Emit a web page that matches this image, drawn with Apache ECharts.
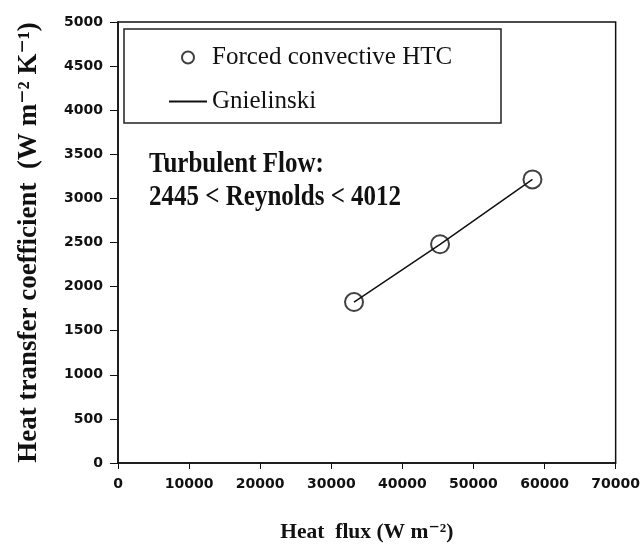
<!DOCTYPE html>
<html>
<head>
<meta charset="utf-8">
<title>Heat transfer coefficient vs heat flux</title>
<script src="https://cdn.jsdelivr.net/npm/echarts@6/dist/echarts.min.js"></script>
<style>
  html, body { margin: 0; padding: 0; background: #fff; }
  #main { width: 643px; height: 549px; }
</style>
</head>
<body>
<div id="main"></div>
<script>
var heatFlux = [33200, 45300, 58300];
var htcMeasured = [1825, 2480, 3215];
var htcGnielinski = [1825, 2480, 3215];
var xTicks = [0, 10000, 20000, 30000, 40000, 50000, 60000, 70000];
var yTicks = [0, 500, 1000, 1500, 2000, 2500, 3000, 3500, 4000, 4500, 5000];
var noteLines = ['Turbulent Flow:', '2445 < Reynolds < 4012'];

var serif = '"Liberation Serif", "DejaVu Serif", serif';
var tickFont = '"DejaVu Sans", sans-serif';

function pairs(xs, ys) {
    var out = [];
    for (var i = 0; i < xs.length; i++) out.push([xs[i], ys[i]]);
    return out;
}

var chart = echarts.init(document.getElementById('main'));

// note text, drawn a little taller than wide like the original scan
var noteGraphics = noteLines.map(function (t, i) {
    return {
        type: 'text',
        x: 149,
        y: 164 + i * 33,
        scaleY: 1.2,
        style: {
            text: t,
            font: 'bold 25px ' + serif,
            fill: '#111',
            verticalAlign: 'middle'
        }
    };
});

var option = {
    backgroundColor: '#fff',
    animation: false,
    graphic: [{
        type: 'rect',
        shape: { x: 124, y: 29, width: 377, height: 94 },
        style: { fill: 'none', stroke: '#222', lineWidth: 1.5 }
    }].concat(noteGraphics),
    legend: {
        orient: 'vertical',
        left: 163,
        top: 40,
        itemGap: 19,
        itemWidth: 38,
        itemHeight: 12,
        textStyle: { fontFamily: serif, fontSize: 25, color: '#111' },
        data: ['Forced convective HTC', 'Gnielinski']
    },
    grid: { left: 118, right: 26, top: 22, bottom: 86, show: true, borderColor: '#111', borderWidth: 1.5, backgroundColor: 'transparent' },
    xAxis: {
        type: 'value',
        min: xTicks[0],
        max: xTicks[xTicks.length - 1],
        interval: 10000,
        name: 'Heat  flux (W m\u207B\u00B2)',
        nameLocation: 'middle',
        nameGap: 58,
        nameTextStyle: { fontFamily: serif, fontWeight: 'bold', fontSize: 21.5, color: '#111' },
        axisLine: { lineStyle: { color: '#111', width: 1.5 } },
        axisTick: { inside: false, length: 6, lineStyle: { color: '#111' } },
        axisLabel: { margin: 14, fontFamily: tickFont, fontWeight: 'bold', fontSize: 14, color: '#111',
            formatter: function (v) { return String(v); } },
        splitLine: { show: false }
    },
    yAxis: {
        type: 'value',
        min: yTicks[0],
        max: yTicks[yTicks.length - 1],
        interval: 500,
        name: 'Heat transfer coefficient  (W m\u207B\u00B2 K\u207B\u00B9)',
        nameLocation: 'middle',
        nameMoveOverlap: false,
        nameGap: 75,
        nameTextStyle: { fontFamily: serif, fontWeight: 'bold', fontSize: 27, color: '#111' },
        axisLine: { lineStyle: { color: '#111', width: 1.5 } },
        axisTick: { inside: false, length: 8, lineStyle: { color: '#111' } },
        axisLabel: { margin: 15, fontFamily: tickFont, fontWeight: 'bold', fontSize: 14, color: '#111',
            formatter: function (v) { return String(v); } },
        splitLine: { show: false }
    },
    series: [{
        name: 'Gnielinski',
        type: 'line',
        symbol: 'none',
        data: pairs(heatFlux, htcGnielinski),
        lineStyle: { color: '#111', width: 1.5 },
        itemStyle: { color: '#111', opacity: 0 },
        z: 2
    }, {
        name: 'Forced convective HTC',
        type: 'scatter',
        symbol: 'circle',
        symbolSize: 18,
        data: pairs(heatFlux, htcMeasured),
        itemStyle: { color: 'rgba(255,255,255,0)', borderColor: '#111', borderWidth: 2 },
        z: 3
    }]
};

chart.setOption(option);
</script>
</body>
</html>
